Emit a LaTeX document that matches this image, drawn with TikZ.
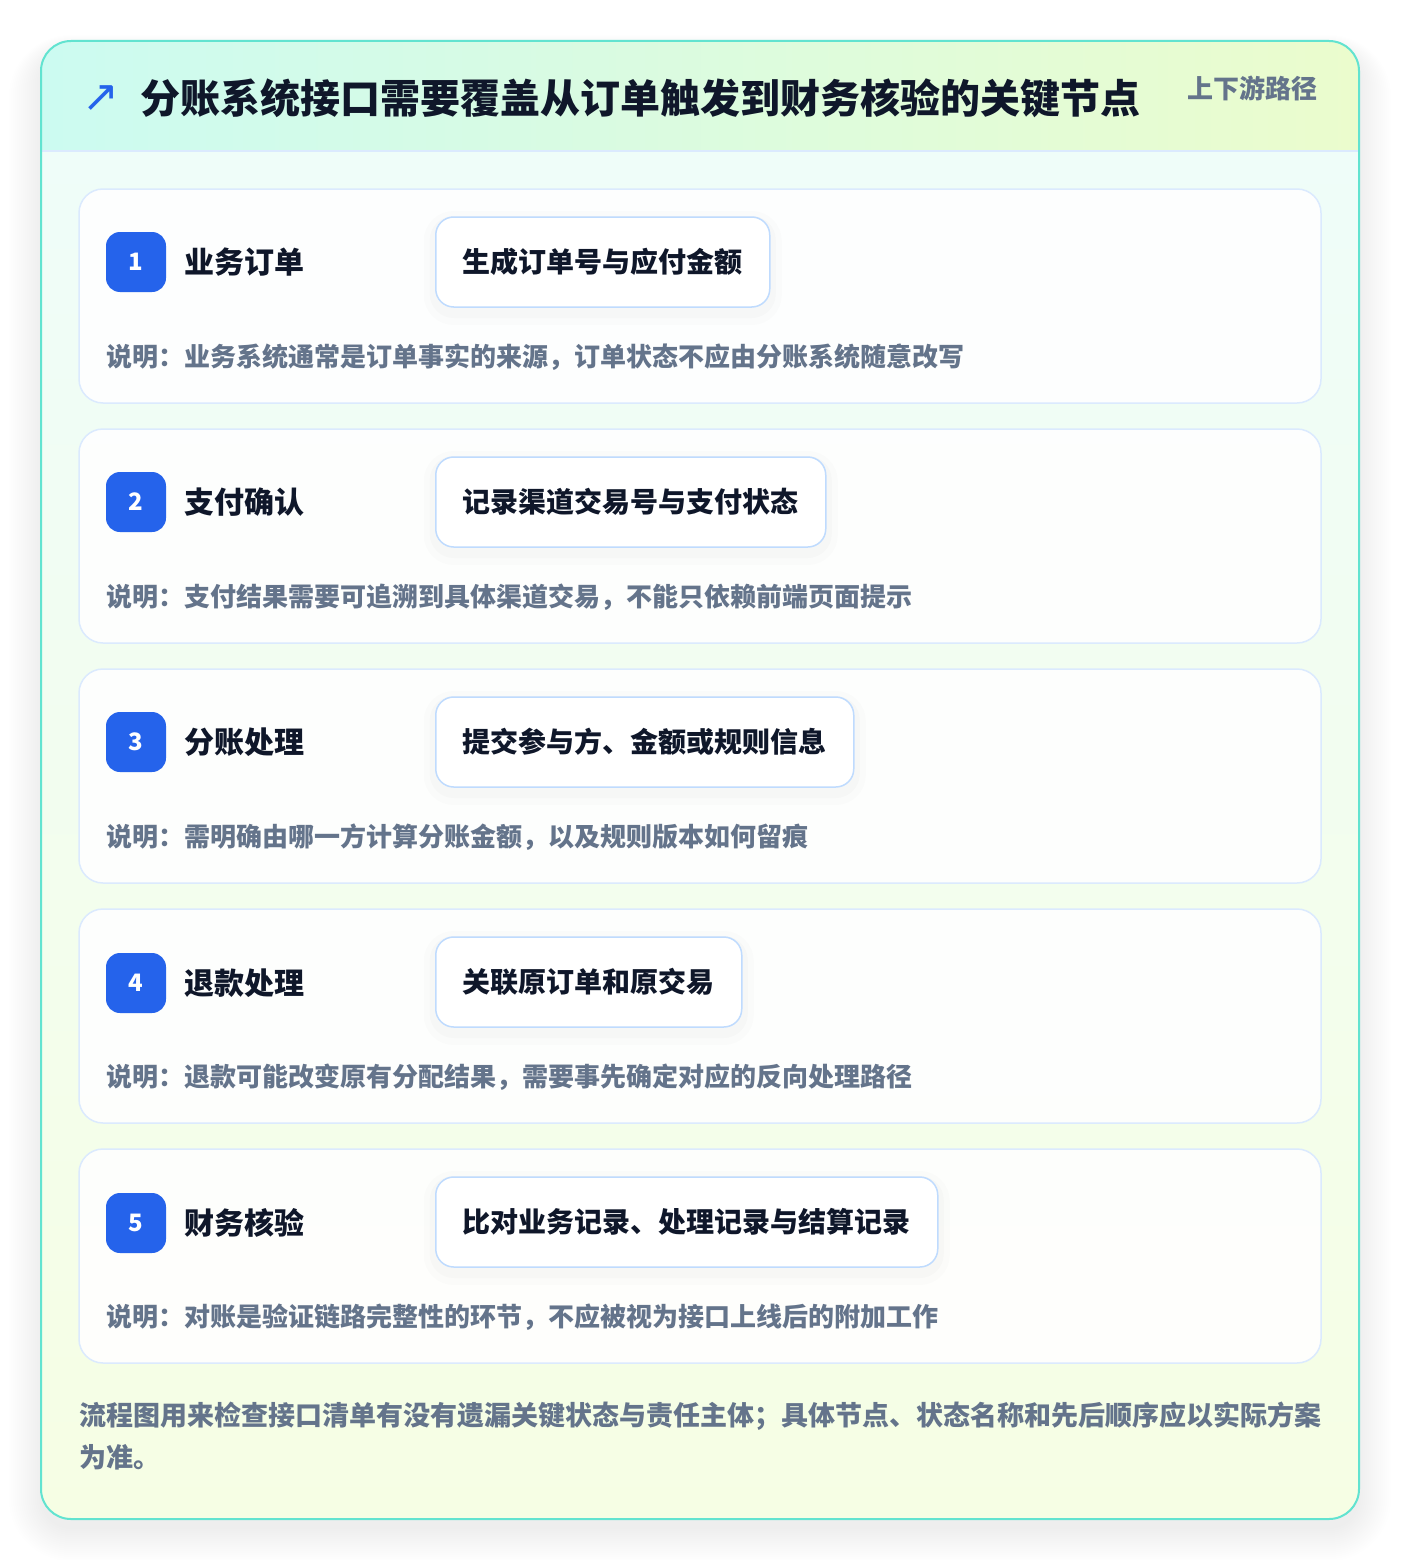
\documentclass[tikz,border=0pt]{standalone}
\usepackage{fontspec}
\setmainfont{Noto Sans CJK SC}
\newfontfamily\arrowfont{DejaVu Sans}
\usetikzlibrary{positioning}
\definecolor{rim}{HTML}{62E3D0}
\definecolor{headl}{HTML}{CCFBF1}
\definecolor{headr}{HTML}{EBFCCD}
\definecolor{bodyt}{HTML}{EFFDF9}
\definecolor{bodyb}{HTML}{F6FEE4}
\definecolor{cardline}{HTML}{DBEAFE}
\definecolor{boxline}{HTML}{BFDBFE}
\definecolor{badgeblue}{HTML}{2563EB}
\definecolor{ink}{HTML}{0F172A}
\definecolor{muted}{HTML}{64748B}

\begin{document}
\begin{tikzpicture}[x=1pt,y=-1pt,
  card/.style={draw=cardline,line width=1.5pt,fill=white,fill opacity=0.9,
    rounded corners=24pt,minimum width=1242pt,minimum height=214pt,inner sep=0pt},
  badgebox/.style={fill=badgeblue,rounded corners=14pt,minimum size=60pt,inner sep=0pt,
    text=white,font=\bfseries\fontsize{24}{28}\selectfont},
  rowtitle/.style={inner sep=0pt,text=ink,text height=26.4pt,text depth=3.6pt,
    font=\bfseries\fontsize{30}{36}\selectfont},
  actbox/.style={draw=boxline,line width=1.5pt,fill=white,rounded corners=18pt,
    minimum height=90pt,inner xsep=27pt,inner ysep=0pt,text=ink,
    text height=24.6pt,text depth=3.4pt,font=\bfseries\fontsize{28}{34}\selectfont,
    preaction={draw=black,draw opacity=0.012,line width=24pt,transform canvas={yshift=-6pt}},
    preaction={draw=black,draw opacity=0.015,line width=12pt,transform canvas={yshift=-5pt}}},
  notetext/.style={inner sep=0pt,text=muted,text height=22.9pt,text depth=3.1pt,
    font=\bfseries\fontsize{26}{32}\selectfont},
  foottext/.style={inner sep=0pt,text=muted,text height=23.8pt,text depth=3.2pt,
    font=\bfseries\fontsize{27}{42}\selectfont}]

\useasboundingbox (0,0) rectangle (1400,1560);
\fill[white] (0,0) rectangle (1400,1560);
\foreach \k in {0,...,16}
  \fill[black,opacity=0.0035,rounded corners={30+2*\k}]
    ({41-2*\k},{51-\k}) rectangle ({1359+2*\k},{1529+2*\k});

\begin{scope}
  \clip[rounded corners=30pt] (41,41) rectangle (1359,1519);
  \shade[left color=headl,right color=headr] (41,41) rectangle (1359,151);
  \shade[top color=bodyt,bottom color=bodyb] (41,151) rectangle (1359,1519);
\end{scope}
\draw[cardline,line width=1.5pt] (42,151) -- (1358,151);
\draw[rim,line width=2pt,rounded corners=30pt] (41,41) rectangle (1359,1519);

\node[text=badgeblue,font=\arrowfont\fontsize{44}{50}\selectfont,inner sep=0pt] (arrow) at (101,99) {↗};
\node[anchor=west,inner sep=0pt,text=ink,text height=35.2pt,text depth=4.8pt,
  font=\bfseries\fontsize{40}{46}\selectfont] (title) at (140,98) {分账系统接口需要覆盖从订单触发到财务核验的关键节点};
\node[anchor=east,inner sep=0pt,text=muted,text height=22.9pt,text depth=3.1pt,
  font=\bfseries\fontsize{26}{32}\selectfont] (tag) at (1318,89) {上下游路径};

\node[card] (c1) at (700,296) {};
\node[badgebox] (b1) at (136,262) {1};
\node[rowtitle,right=18pt of b1] (t1) {业务订单};
\node[actbox,anchor=west] (a1) at (435,262) {生成订单号与应付金额};
\node[notetext,anchor=west] (n1) at (106,357) {说明：业务系统通常是订单事实的来源，订单状态不应由分账系统随意改写};

\node[card] (c2) at (700,536) {};
\node[badgebox] (b2) at (136,502) {2};
\node[rowtitle,right=18pt of b2] (t2) {支付确认};
\node[actbox,anchor=west] (a2) at (435,502) {记录渠道交易号与支付状态};
\node[notetext,anchor=west] (n2) at (106,597) {说明：支付结果需要可追溯到具体渠道交易，不能只依赖前端页面提示};

\node[card] (c3) at (700,776) {};
\node[badgebox] (b3) at (136,742) {3};
\node[rowtitle,right=18pt of b3] (t3) {分账处理};
\node[actbox,anchor=west] (a3) at (435,742) {提交参与方、金额或规则信息};
\node[notetext,anchor=west] (n3) at (106,837) {说明：需明确由哪一方计算分账金额，以及规则版本如何留痕};

\node[card] (c4) at (700,1016) {};
\node[badgebox] (b4) at (136,983) {4};
\node[rowtitle,right=18pt of b4] (t4) {退款处理};
\node[actbox,anchor=west] (a4) at (435,982) {关联原订单和原交易};
\node[notetext,anchor=west] (n4) at (106,1077) {说明：退款可能改变原有分配结果，需要事先确定对应的反向处理路径};

\node[card] (c5) at (700,1256) {};
\node[badgebox] (b5) at (136,1223) {5};
\node[rowtitle,right=18pt of b5] (t5) {财务核验};
\node[actbox,anchor=west] (a5) at (435,1222) {比对业务记录、处理记录与结算记录};
\node[notetext,anchor=west] (n5) at (106,1317) {说明：对账是验证链路完整性的环节，不应被视为接口上线后的附加工作};

\node[foottext,anchor=west] (f1) at (79,1415) {流程图用来检查接口清单有没有遗漏关键状态与责任主体；具体节点、状态名称和先后顺序应以实际方案};
\node[foottext,anchor=west] (f2) at (79,1457) {为准。};
\end{tikzpicture}
\end{document}
